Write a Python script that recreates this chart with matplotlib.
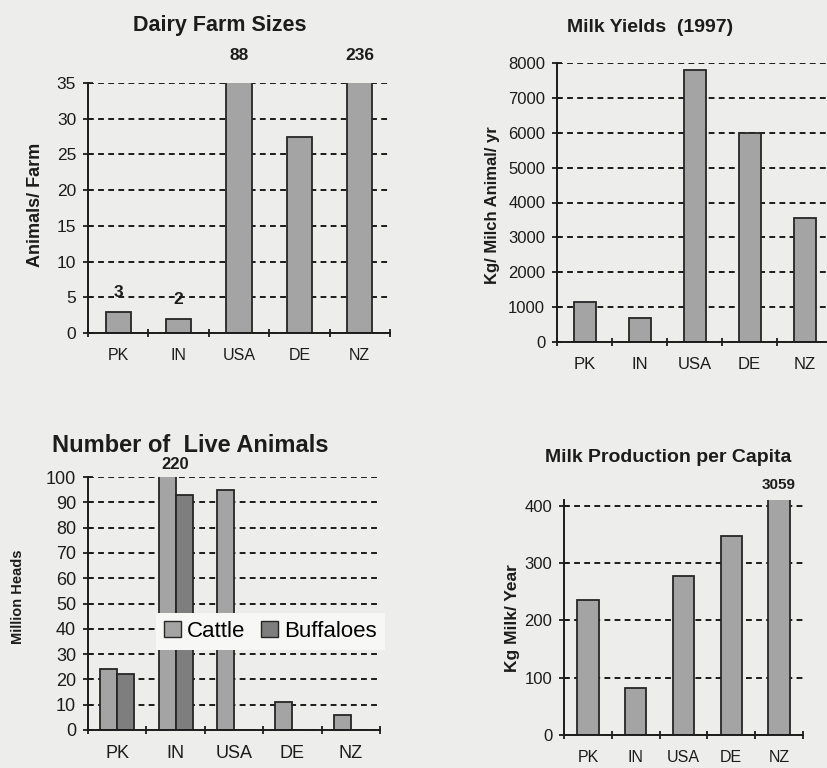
import matplotlib
matplotlib.use("Agg")
import matplotlib.pyplot as plt
from matplotlib.patches import Patch

plt.rcParams['font.family'] = ['Liberation Sans', 'DejaVu Sans']

# ---- data ----
countries = ["PK", "IN", "USA", "DE", "NZ"]
farm_size = [3, 2, 88, 27.4, 236]           # animals per farm
milk_yield = [1150, 700, 7800, 6000, 3550]  # kg per milch animal per year (1997)
cattle = [24, 220, 95, 11, 6]               # million heads
buffaloes = [22, 93, 0, 0, 0]               # million heads
per_capita = [235, 82, 277, 347, 3059]      # kg milk per person per year

W, H = 827, 768
BG = "#ededeb"
BAR = "#a4a4a4"
BAR_DARK = "#7e7e7e"
EDGE = "#262626"
INK = "#1c1c1c"

fig = plt.figure(figsize=(W / 100, H / 100), dpi=100)
fig.patch.set_facecolor(BG)


def make_axes(x0, x1, y_top, y_zero, ysize=12.5, xsize=11.5):
    ax = fig.add_axes([x0 / W, 1 - y_zero / H, (x1 - x0) / W, (y_zero - y_top) / H])
    ax.set_facecolor("none")
    for s in ("top", "right"):
        ax.spines[s].set_visible(False)
    for s in ("left", "bottom"):
        ax.spines[s].set_color(INK)
        ax.spines[s].set_linewidth(1.4)
    ax.set_axisbelow(True)
    ax.yaxis.grid(True, color=INK, linestyle=(0, (3, 2.2)), linewidth=1.4)
    ax.set_xlim(-0.5, len(countries) - 0.5)
    ax.set_xticks(range(len(countries)))
    ax.set_xticklabels(countries)
    ax.set_xticks([i - 0.5 for i in range(len(countries) + 1)], minor=True)
    ax.tick_params(axis="x", which="major", length=0, pad=11, labelsize=xsize, colors=INK)
    ax.tick_params(axis="x", which="minor", length=6, direction="inout", width=1.3, color=INK)
    ax.tick_params(axis="y", length=7, direction="inout", width=1.3, labelsize=ysize,
                   colors=INK, pad=5)
    return ax


def title(x, y, text, size=13):
    fig.text(x / W, 1 - y / H, text, ha="center", va="center",
             fontsize=size, fontweight="bold", color=INK)


def ylabel(x, y, text, size=10.5):
    fig.text(x / W, 1 - y / H, text, ha="center", va="center", rotation=90,
             fontsize=size, fontweight="bold", color=INK)


x = list(range(len(countries)))

# ---- Dairy Farm Sizes ----
ax1 = make_axes(88, 390, 83, 333, ysize=12.5, xsize=11.5)
ax1.set_ylim(0, 35)
ax1.set_yticks(range(0, 36, 5))
ax1.bar(x, farm_size, width=0.42, color=BAR, edgecolor=EDGE, linewidth=1.3)
for i, v in enumerate(farm_size):
    if v > 35:
        ax1.annotate(f"{v}", (i, 35), xytext=(0, 20), textcoords="offset points",
                     ha="center", va="center", fontsize=12.5, fontweight="bold", color=INK)
    elif i < 2:
        ax1.annotate(f"{v}", (i, v), xytext=(0, 14), textcoords="offset points",
                     ha="center", va="center", fontsize=12.5, fontweight="bold", color=INK)
title(220, 25, "Dairy Farm Sizes", 15.5)
ylabel(35, 205, "Animals/ Farm", 13)

# ---- Milk Yields (1997) ----
ax2 = make_axes(557, 832, 63, 342, ysize=12, xsize=12)
ax2.set_ylim(0, 8000)
ax2.set_yticks(range(0, 8001, 1000))
ax2.bar(x, milk_yield, width=0.4, color=BAR, edgecolor=EDGE, linewidth=1.3)
title(650, 27, "Milk Yields  (1997)", 14)
ylabel(492, 205, "Kg/ Milch Animal/ yr", 12)

# ---- Number of Live Animals ----
ax3 = make_axes(88, 380, 477, 730, ysize=13, xsize=13)
ax3.set_ylim(0, 100)
ax3.set_yticks(range(0, 101, 10))
bw = 0.29
ax3.bar([i - bw / 2 for i in x], cattle, width=bw, color=BAR, edgecolor=EDGE,
        linewidth=1.3, label="Cattle")
ax3.bar([i + bw / 2 for i in x], buffaloes, width=bw, color=BAR_DARK, edgecolor=EDGE,
        linewidth=1.3, label="Buffaloes")
for i, v in enumerate(cattle):
    if v > 100:
        ax3.annotate(f"{v}", (i, 100), xytext=(0, 9), textcoords="offset points",
                     ha="center", va="center", fontsize=12, fontweight="bold", color=INK)
leg = ax3.legend(handles=[Patch(facecolor=BAR, edgecolor=EDGE, label="Cattle"),
                          Patch(facecolor=BAR_DARK, edgecolor=EDGE, label="Buffaloes")],
                 loc="center", bbox_to_anchor=(0.625, 0.39), ncol=2, frameon=True,
                 fontsize=16, handlelength=0.75, handleheight=0.75, handletextpad=0.3,
                 columnspacing=0.7, borderpad=0.35, borderaxespad=0, fancybox=False)
leg.get_frame().set_facecolor("#f7f7f5")
leg.get_frame().set_edgecolor("none")
leg.get_frame().set_alpha(1)
title(190, 446, "Number of  Live Animals", 17)
ylabel(18, 597, "Million Heads", 10.5)

# ---- Milk Production per Capita ----
ax4 = make_axes(564, 803, 500, 735, ysize=12, xsize=11.5)
ax4.set_ylim(0, 410)
ax4.set_yticks(range(0, 401, 100))
ax4.bar(x, per_capita, width=0.45, color=BAR, edgecolor=EDGE, linewidth=1.3)
for i, v in enumerate(per_capita):
    if v > 410:
        ax4.annotate(f"{v}", (i, 410), xytext=(0, 11), textcoords="offset points",
                     ha="center", va="center", fontsize=11, fontweight="bold", color=INK)
title(668, 457, "Milk Production per Capita", 14)
ylabel(512, 618, "Kg Milk/ Year", 12.5)

fig.savefig("out.png", dpi=100, facecolor=BG)
